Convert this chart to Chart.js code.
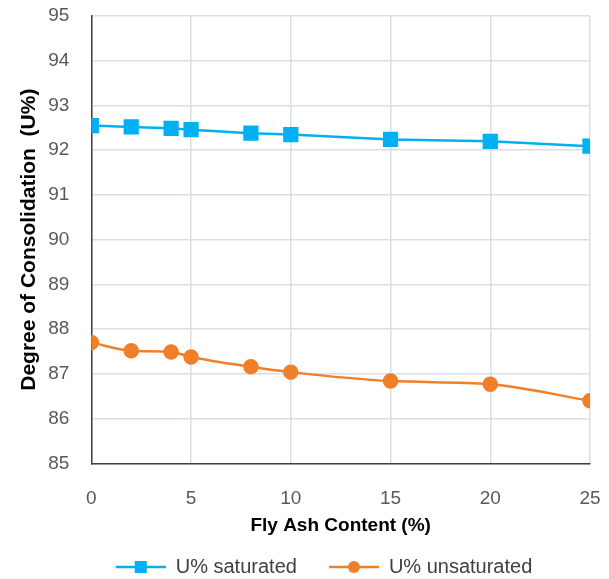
<!DOCTYPE html>
<html><head><meta charset="utf-8">
<script src="https://cdn.jsdelivr.net/npm/chart.js@4/dist/chart.umd.min.js"></script>
<style>html,body{margin:0;padding:0;background:#fff}#w{width:609px;height:579px}</style>
</head><body><div id="w"><canvas id="c" width="609" height="579"></canvas></div>
<script>
const flyAsh = [0, 2, 4, 5, 8, 10, 15, 20, 25];
const uSaturated = [92.55, 92.52, 92.49, 92.46, 92.38, 92.35, 92.24, 92.20, 92.09];
const uUnsaturated = [87.70, 87.52, 87.49, 87.38, 87.16, 87.04, 86.84, 86.77, 86.40];
const seriesNames = ["U% saturated", "U% unsaturated"];
const xTitle = "Fly Ash Content (%)";
const yTitle = "Degree of Consolidation  (U%)";

const blue = "#00b0f0", orange = "#f07f2a";
function legendIcon(color, style) {
  const c = document.createElement("canvas");
  c.width = 72; c.height = 16;
  const g = c.getContext("2d");
  g.strokeStyle = color; g.lineWidth = 2.5;
  g.beginPath(); g.moveTo(22, 8); g.lineTo(72, 8); g.stroke();
  g.fillStyle = color;
  if (style === "rect") g.fillRect(41, 2, 12, 12);
  else { g.beginPath(); g.arc(47, 8, 6, 0, Math.PI * 2); g.fill(); }
  return c;
}
const icons = [legendIcon(blue, "rect"), legendIcon(orange, "circle")];

new Chart(document.getElementById("c"), {
  type: "line",
  data: {
    datasets: [
      { label: seriesNames[0], data: flyAsh.map((x, i) => ({x, y: uSaturated[i]})),
        borderColor: blue, backgroundColor: blue, borderWidth: 2.5,
        pointStyle: "rect", pointRadius: 9, pointHoverRadius: 9, tension: 0 },
      { label: seriesNames[1], data: flyAsh.map((x, i) => ({x, y: uUnsaturated[i]})),
        borderColor: orange, backgroundColor: orange, borderWidth: 2.5,
        pointStyle: "circle", pointRadius: 6.5, pointHoverRadius: 6.5, cubicInterpolationMode: "monotone" }
    ]
  },
  options: {
    responsive: false, animation: false,
    layout: { padding: { left: 17, right: 0, top: 0, bottom: -8 } },
    plugins: {
      tooltip: { enabled: false },
      legend: {
        position: "bottom",
        labels: {
          color: "#404040", font: { family: "Liberation Sans", size: 20 },
          usePointStyle: true, pointStyleWidth: 72, boxHeight: 16, padding: 10,
          generateLabels: (chart) => chart.data.datasets.map((d, i) => ({
            text: d.label, pointStyle: icons[i], datasetIndex: i, hidden: false,
            fontColor: "#404040", lineWidth: 0, strokeStyle: "transparent", fillStyle: "transparent"
          }))
        }
      }
    },
    scales: {
      x: {
        type: "linear", min: 0, max: 25,
        afterFit: (s) => { s.paddingRight = 19; },
        ticks: { stepSize: 5, color: "#595959", font: { family: "Liberation Sans", size: 19 }, padding: 24 },
        grid: { color: "#d9dee8", lineWidth: 1.5, drawTicks: false },
        border: { color: "#404040", width: 1.5 },
        title: { display: true, text: xTitle, color: "#000", font: { family: "Liberation Sans", size: 19, weight: "bold" }, padding: { top: -20, bottom: 10 } }
      },
      y: {
        min: 85, max: 95,
        afterFit: (s) => { s.paddingTop = 16; },
        ticks: { stepSize: 1, color: "#595959", font: { family: "Liberation Sans", size: 19 }, padding: 22 },
        grid: { color: "#d9dee8", lineWidth: 1.5, drawTicks: false },
        border: { color: "#404040", width: 1.5 },
        title: { display: true, text: yTitle, color: "#000", font: { family: "Liberation Sans", size: 21, weight: "bold" }, padding: { top: 0, bottom: -16 } }
      }
    }
  }
});
</script></body></html>
